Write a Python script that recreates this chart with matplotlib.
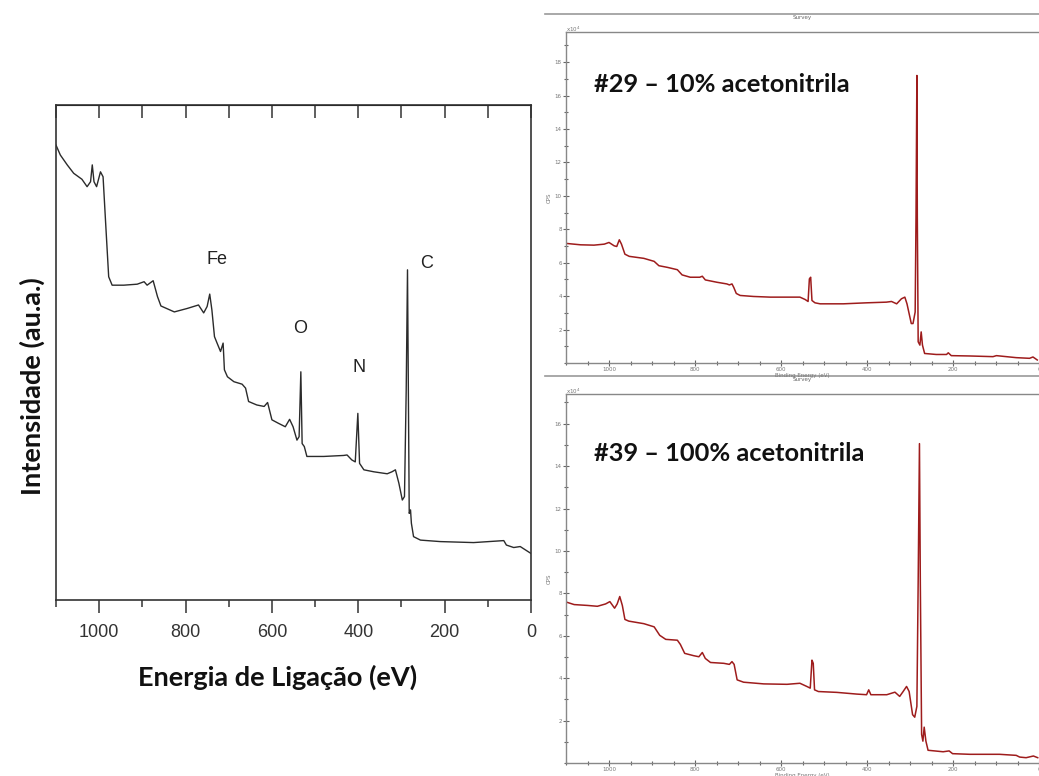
# XPS survey spectra: reference sample (left) and two acetonitrile samples (right)

import matplotlib
matplotlib.use("Agg")
import matplotlib.pyplot as plt
from matplotlib.ticker import MultipleLocator

W, H = 1039, 776

# left spectrum, intensity in arbitrary units
ev_ref = [1100, 1090, 1074, 1059, 1040, 1028, 1020, 1016, 1012, 1006, 997, 991, 985, 978, 970,
          943, 912, 896, 889, 875, 865, 857, 826, 796, 770, 758, 750, 744, 739, 733,
          727, 719, 713, 710, 703, 688, 669, 661, 654, 635, 618, 610, 600, 585, 569,
          559, 551, 542, 537, 533, 530, 525, 519, 480, 434, 426, 415, 407, 401, 397,
          387, 364, 333, 322, 314, 306, 298, 293, 289, 286, 284, 282, 279, 277, 272,
          256, 210, 133, 63, 57, 40, 25, 0]
int_ref = [91.9, 89.9, 87.9, 86.2, 85.0, 83.5, 84.5, 87.9, 84.5, 83.5, 86.5, 85.5, 76.1, 65.3, 63.6,
           63.6, 63.8, 64.3, 63.6, 64.5, 61.3, 59.4, 58.2, 58.9, 59.6, 58.0, 59.3, 61.8, 58.6, 53.2,
           51.9, 50.2, 51.9, 46.5, 45.1, 44.1, 43.6, 42.8, 40.1, 39.4, 39.1, 39.9, 36.4, 35.7, 35.0,
           36.5, 35.0, 32.3, 33.0, 46.1, 31.6, 31.0, 29.0, 29.0, 29.2, 29.3, 28.3, 27.9, 37.7, 27.6,
           26.3, 25.9, 25.5, 25.9, 26.3, 23.6, 20.2, 20.9, 42.4, 66.7, 42.4, 17.5, 18.2, 15.5, 12.8,
           12.1, 11.8, 11.6, 12.0, 11.1, 10.6, 10.8, 9.4]
peak_labels = ["Fe", "O", "N", "C"]

# sample #29 (10% acetonitrila), CPS x 1e4
ev_29 = [1098, 1066, 1035, 1011, 1000, 988, 982, 976, 971, 963, 953, 919, 895, 884, 864,
         841, 830, 811, 789, 783, 776, 749, 726, 720, 714, 710, 704, 695, 664, 625,
         579, 556, 544, 537, 534, 531, 528, 521, 509, 455, 401, 355, 343, 331, 320,
         312, 307, 297, 293, 288, 286, 284, 283, 281, 277, 274, 271, 266, 239, 215,
         211, 204, 161, 107, 99, 53, 22, 14, 4]
cps_29 = [7.15, 7.07, 7.05, 7.11, 7.21, 7.01, 6.97, 7.37, 7.11, 6.51, 6.38, 6.26, 6.08, 5.82, 5.72,
          5.58, 5.27, 5.13, 5.13, 5.19, 4.97, 4.83, 4.73, 4.67, 4.73, 4.53, 4.16, 4.04, 3.98, 3.94,
          3.94, 3.94, 3.80, 3.68, 5.03, 5.13, 3.74, 3.60, 3.54, 3.54, 3.60, 3.64, 3.68, 3.54, 3.84,
          3.94, 3.54, 2.36, 2.36, 3.05, 8.79, 17.2, 8.79, 1.27, 1.07, 1.86, 1.07, 0.57, 0.51, 0.51,
          0.61, 0.44, 0.42, 0.38, 0.44, 0.32, 0.28, 0.36, 0.18]

# sample #39 (100% acetonitrila), CPS x 1e4
ev_39 = [1098, 1081, 1050, 1027, 1008, 998, 987, 981, 975, 969, 963, 954, 919, 895, 882,
         868, 841, 834, 824, 803, 791, 783, 776, 764, 733, 720, 714, 709, 702, 687,
         640, 586, 556, 540, 532, 528, 525, 522, 513, 470, 424, 401, 396, 391, 354,
         335, 324, 316, 308, 302, 294, 289, 284, 281, 278, 276, 273, 270, 267, 263,
         258, 223, 209, 201, 161, 92, 53, 45, 30, 13, 3]
cps_39 = [7.58, 7.47, 7.43, 7.39, 7.50, 7.61, 7.30, 7.50, 7.85, 7.43, 6.77, 6.69, 6.57, 6.42, 6.02,
          5.83, 5.79, 5.59, 5.17, 5.06, 5.01, 5.21, 4.93, 4.74, 4.70, 4.65, 4.78, 4.65, 3.92, 3.81,
          3.73, 3.71, 3.76, 3.61, 3.53, 4.85, 4.70, 3.45, 3.37, 3.33, 3.25, 3.22, 3.45, 3.22, 3.22,
          3.34, 3.14, 3.37, 3.61, 3.37, 2.28, 2.16, 2.67, 8.52, 15.06, 8.52, 1.35, 1.03, 1.69, 1.03,
          0.60, 0.53, 0.57, 0.44, 0.41, 0.41, 0.36, 0.28, 0.25, 0.33, 0.25]


def rect(x0, y0, x1, y1):
    # pixel box (top-left origin) -> figure fraction
    return [x0 / W, 1 - y1 / H, (x1 - x0) / W, (y1 - y0) / H]


def fx(x):
    return x / W


def fy(y):
    return 1 - y / H


fig = plt.figure(figsize=(W / 100, H / 100), dpi=100)

# ---- left panel ----
ax = fig.add_axes(rect(56, 105, 531, 600))
ax.plot(ev_ref, int_ref, color="#2b2b2b", lw=1.0)
ax.set_xlim(1100, 0)
ax.set_ylim(0, 100)
ax.set_yticks([])
ax.xaxis.set_major_locator(MultipleLocator(200))
ax.xaxis.set_minor_locator(MultipleLocator(100))
ax.tick_params(axis="x", which="major", direction="out", length=9, width=1.1,
               color="#333", pad=8, labelsize=13, labelcolor="#333")
ax.tick_params(axis="x", which="minor", direction="out", length=5, width=1.1, color="#333")
for lab in ax.get_xticklabels():
    lab.set_family(["Liberation Sans Narrow", "Liberation Sans"])
for s in ax.spines.values():
    s.set_color("#333")
    s.set_linewidth(1.2)
top = ax.secondary_xaxis("top")
top.xaxis.set_major_locator(MultipleLocator(100))
top.tick_params(direction="in", length=9, width=1.1, color="#333", labeltop=False)

for lab, x, y in zip(peak_labels, [727, 534, 398, 242], [68.7, 54.9, 46.9, 67.9]):
    ax.text(x, y, lab, ha="center", va="center", fontsize=13, family="Liberation Sans", color="#222")

fig.text(fx(278), fy(677), "Energia de Ligação (eV)", ha="center", va="center",
         fontsize=19.5, fontweight="bold", family="Lato", color="#111")
fig.text(fx(32), fy(386), "Intensidade (au.a.)", ha="center", va="center", rotation=90,
         fontsize=19.5, fontweight="bold", family="Lato", color="#111")


# ---- right panels ----
def survey(y_top, y_bot, ev, cps, ymax, ymajor, label, frame_y):
    a = fig.add_axes(rect(566, y_top, 1039, y_bot))
    a.plot(ev, cps, color="#9e1c1c", lw=1.1)
    a.set_xlim(1100, 0)
    a.set_ylim(0, ymax)
    a.set_yticks(ymajor)
    a.yaxis.set_minor_locator(MultipleLocator(1))
    a.xaxis.set_major_locator(MultipleLocator(200))
    a.xaxis.set_minor_locator(MultipleLocator(50))
    a.tick_params(which="both", direction="inout", color="#666", width=0.8,
                  labelsize=4, labelcolor="#777", pad=1)
    a.tick_params(which="major", length=4)
    a.tick_params(which="minor", length=2.5)
    a.spines["right"].set_visible(False)
    for s in ["left", "bottom", "top"]:
        a.spines[s].set_color("#888")
        a.spines[s].set_linewidth(1.0)
    a.set_ylabel("CPS", fontsize=4, color="#777", labelpad=2)
    a.text(0.06, 0.84, label, transform=a.transAxes, ha="left", va="center",
           fontsize=18.3, fontweight="bold", family="Lato", color="#111")
    # window frame line, title and x label of the software export
    fig.add_artist(plt.Line2D([fx(545), fx(1039)], [fy(frame_y), fy(frame_y)],
                              color="#999", lw=1.2))
    fig.text(fx(802), fy(frame_y + 4), "Survey", ha="center", va="center", fontsize=4, color="#666")
    fig.text(fx(573), fy(y_top - 3), r"x10$^4$", ha="center", va="center", fontsize=4, color="#777")
    fig.text(fx(802), fy(y_bot + 12), "Binding Energy (eV)", ha="center", va="center",
             fontsize=4, color="#777")
    return a


survey(32, 363, ev_29, cps_29, 19.8, range(2, 19, 2), "#29 – 10% acetonitrila", 14)
survey(394, 763, ev_39, cps_39, 17.4, range(2, 17, 2), "#39 – 100% acetonitrila", 376)

fig.savefig("out.png", dpi=100)
